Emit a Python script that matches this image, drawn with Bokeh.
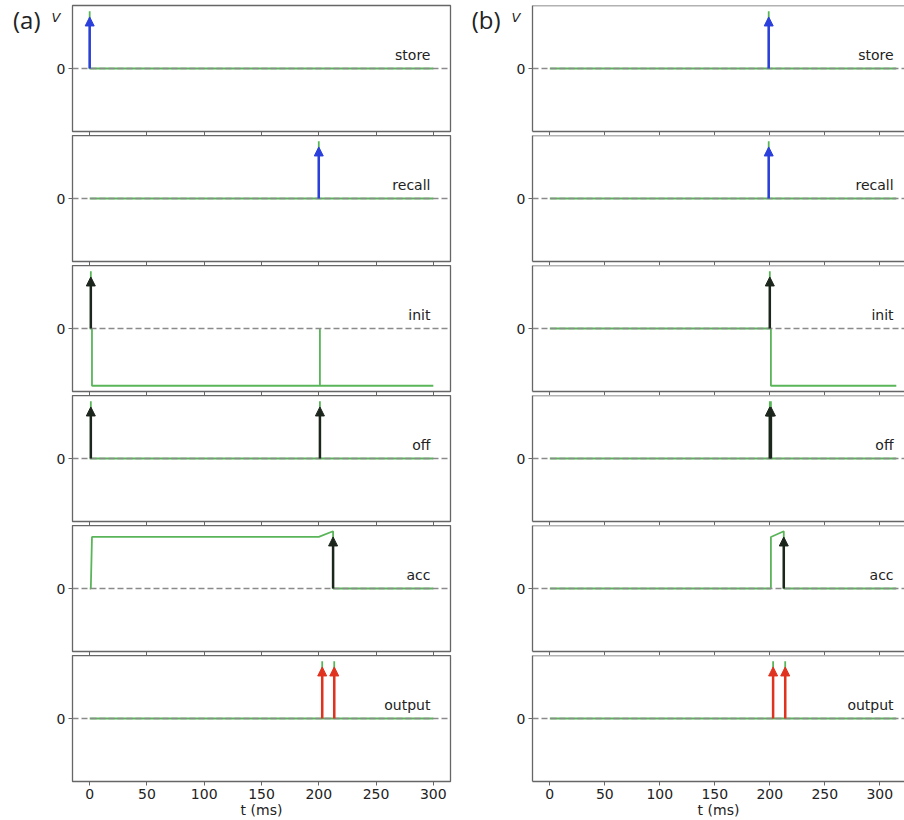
from bokeh.plotting import figure
from bokeh.layouts import gridplot
from bokeh.models import Span, Arrow, NormalHead, ColumnDataSource, FixedTicker, Range1d, LinearAxis
from bokeh.embed import file_html
from bokeh.resources import INLINE
from bokeh.core.properties import value

# ---------------- data ----------------
panel_names = ["store", "recall", "init", "off", "acc", "output"]
x_ticks = [0, 50, 100, 150, 200, 250, 300]
y_ticks = [0]
column_tags = ["(a)", "(b)"]
y_name = "V"
x_label = "t (ms)"

# column (a): membrane traces (t in ms, v normalised) and spike times
a_store_t = [0, 0, 0, 300]
a_store_v = [0, 1, 0, 0]
a_recall_t = [0, 200, 200, 200, 300]
a_recall_v = [0, 0, 1, 0, 0]
a_init_t = [0, 1, 1, 1, 2, 2, 201, 201, 201, 300]
a_init_v = [0, 0, 1, 0, 0, -1, -1, 0, -1, -1]
a_off_t = [0, 1, 1, 1, 201, 201, 201, 300]
a_off_v = [0, 0, 1, 0, 0, 1, 0, 0]
a_acc_t = [0, 1, 2, 200, 212.5, 212.5, 300]
a_acc_v = [0, 0, 0.9, 0.9, 1.0, 0, 0]
a_output_t = [0, 203, 203, 203, 213.5, 213.5, 213.5, 300]
a_output_v = [0, 0, 1, 0, 0, 1, 0, 0]

a_store_spikes = [0]
a_recall_spikes = [200]
a_init_spikes = [1]
a_off_spikes = [1, 201]
a_acc_spikes = [212.5]
a_output_spikes = [203, 213.5]

# column (b)
b_store_t = [0, 199, 199, 199, 315]
b_store_v = [0, 0, 1, 0, 0]
b_recall_t = [0, 199, 199, 199, 315]
b_recall_v = [0, 0, 1, 0, 0]
b_init_t = [0, 200, 200, 200, 201, 201, 315]
b_init_v = [0, 0, 1, 0, 0, -1, -1]
b_off_t = [0, 200, 200, 200, 201, 201, 201, 315]
b_off_v = [0, 0, 1, 0, 0, 1, 0, 0]
b_acc_t = [0, 201, 201, 212.7, 212.7, 315]
b_acc_v = [0, 0, 0.9, 1.0, 0, 0]
b_output_t = [0, 203, 203, 203, 214, 214, 214, 315]
b_output_v = [0, 0, 1, 0, 0, 1, 0, 0]

b_store_spikes = [199]
b_recall_spikes = [199]
b_init_spikes = [200]
b_off_spikes = [200, 201]
b_acc_spikes = [212.7]
b_output_spikes = [203, 214]

col_a = [
    (a_store_t, a_store_v, a_store_spikes),
    (a_recall_t, a_recall_v, a_recall_spikes),
    (a_init_t, a_init_v, a_init_spikes),
    (a_off_t, a_off_v, a_off_spikes),
    (a_acc_t, a_acc_v, a_acc_spikes),
    (a_output_t, a_output_v, a_output_spikes),
]
col_b = [
    (b_store_t, b_store_v, b_store_spikes),
    (b_recall_t, b_recall_v, b_recall_spikes),
    (b_init_t, b_init_v, b_init_spikes),
    (b_off_t, b_off_v, b_off_spikes),
    (b_acc_t, b_acc_v, b_acc_spikes),
    (b_output_t, b_output_v, b_output_spikes),
]

# ---------------- style ----------------
FONT = "DejaVu Sans"
GREEN = "#5ab55a"
ARROW_COLORS = ["#2b3fdc", "#2b3fdc", "#1c261c", "#1c261c", "#1c261c", "#e0331f"]
FRAME = "#666666"
TXT = "#222222"
ARROW_TIP = 0.9
V_POS = 0.89      # vertical place of the "V" marker (axis units)
TAG_POS = 0.86    # vertical place of the panel tag


def label_axis(pos, text, size, font, style, standoff):
    ax = LinearAxis(ticker=FixedTicker(ticks=[pos]),
                    major_label_overrides={pos: text},
                    major_label_text_font=font, major_label_text_font_size=size,
                    major_label_text_font_style=style, major_label_text_color=TXT,
                    major_label_standoff=standoff,
                    major_tick_out=0, major_tick_in=0, minor_tick_out=0, minor_tick_in=0,
                    axis_line_color=None, major_tick_line_color=None)
    return ax


def make_panel(col, row, trace, name):
    t, v, spikes = trace
    t_end = t[-1]
    last = row == len(panel_names) - 1
    if col == 0:
        width, b_left, b_right = 460, 72, 10
        xr = Range1d(-15, 315)
    else:
        width, b_left, b_right = 444, 72, 0
        xr = Range1d(-15.75, 322.45)
    if row == 0:
        height, b_top, b_bottom = 135, 5, 4
    elif last:
        height, b_top, b_bottom = 165, 0, 39
    else:
        height, b_top, b_bottom = 130, 0, 4

    p = figure(width=width, height=height, x_range=xr, y_range=Range1d(-1.1, 1.1),
               output_backend="svg", toolbar_location=None, title=None,
               min_border_left=b_left, min_border_right=b_right,
               min_border_top=b_top, min_border_bottom=b_bottom,
               background_fill_color="white", border_fill_color="white")
    p.xgrid.visible = False
    p.ygrid.visible = False

    # axes
    for ax in (p.xaxis[0], p.yaxis[0]):
        ax.major_tick_out = 4
        ax.major_tick_in = 0
        ax.minor_tick_out = 0
        ax.minor_tick_in = 0
        ax.major_tick_line_color = FRAME
        ax.major_tick_line_width = 1
        ax.major_label_text_font = FONT
        ax.major_label_text_font_size = "14px"
        ax.major_label_text_color = TXT
        ax.major_label_standoff = 3
    p.xaxis.ticker = FixedTicker(ticks=x_ticks)
    p.yaxis.ticker = FixedTicker(ticks=y_ticks)
    if not last:
        p.xaxis.major_label_text_font_size = "0px"
        p.xaxis.major_label_text_color = None
        p.xaxis.major_label_standoff = 0
    else:
        p.xaxis.axis_label = x_label
        p.xaxis.axis_label_text_font = FONT
        p.xaxis.axis_label_text_font_size = "14px"
        p.xaxis.axis_label_text_font_style = "normal"
        p.xaxis.axis_label_text_color = TXT
        p.xaxis.axis_label_standoff = 0

    if col == 0:
        p.outline_line_color = FRAME
        p.outline_line_width = 1.3
        p.xaxis.axis_line_color = None
        p.yaxis.axis_line_color = None
    else:
        p.outline_line_color = None
        p.xaxis.axis_line_color = FRAME
        p.xaxis.axis_line_width = 1.3
        p.yaxis.axis_line_color = FRAME
        p.yaxis.axis_line_width = 1.3
        p.add_layout(Span(location=1.1, dimension="width", line_color=FRAME, line_width=1.3))

    if row == 0:
        p.add_layout(label_axis(V_POS, y_name, "13px", FONT, "italic", -7), "left")
        p.add_layout(label_axis(TAG_POS, column_tags[col], "24px", "Open Sans", "normal", 8), "left")

    # trace
    p.line(t, v, line_color=GREEN, line_width=1.8)

    # zero line
    p.add_layout(Span(location=0, dimension="width", line_color="#8a8a8a",
                      line_width=1.5, line_dash="6 3"))

    # spike arrows
    src = ColumnDataSource(dict(x0=spikes, y0=[0] * len(spikes),
                                x1=spikes, y1=[ARROW_TIP] * len(spikes)))
    c = ARROW_COLORS[row]
    p.add_layout(Arrow(source=src, x_start="x0", y_start="y0", x_end="x1", y_end="y1",
                       line_color=c, line_width=2.5,
                       end=NormalHead(size=9, fill_color=c, line_color=c, line_width=1)))

    # panel name
    p.text(x=[t_end - 2.5], y=[0.24], text=[name], text_align="right",
           text_baseline="alphabetic", text_font=value(FONT), text_font_size="14px",
           text_color=TXT)
    return p


rows = []
for r, name in enumerate(panel_names):
    rows.append([make_panel(0, r, col_a[r], name), make_panel(1, r, col_b[r], name)])

grid = gridplot(rows, toolbar_location=None)

open("out.html", "w").write(file_html(grid, INLINE))
